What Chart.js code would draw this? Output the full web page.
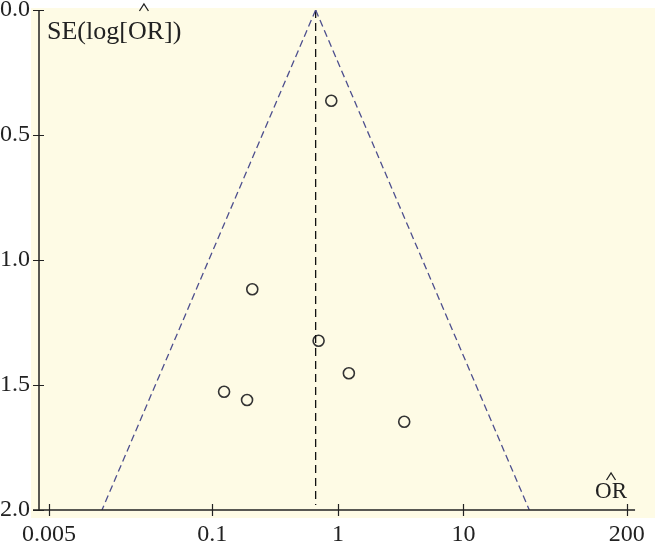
<!DOCTYPE html>
<html>
<head>
<meta charset="utf-8">
<script src="https://cdn.jsdelivr.net/npm/chart.js@4/dist/chart.umd.min.js"></script>
<style>
  html, body { margin: 0; padding: 0; background: #ffffff; }
  #wrap { width: 655px; height: 546px; }
</style>
</head>
<body>
<div id="wrap"><canvas id="funnel"></canvas></div>
<script>
// study estimates
const studyOR = [0.886, 0.208, 0.702, 1.223, 0.124, 0.189, 3.376];
const studySE = [0.363, 1.117, 1.323, 1.453, 1.527, 1.560, 1.647];

// pooled estimate and pseudo 95% limits (ends of the funnel)
const pooledOR = 0.665;
const funnelSE = [0, 2];
const funnelLeftOR = [0.665, 0.0132];
const funnelRightOR = [0.665, 33.5];

// axis ticks
const xTicks = [0.005, 0.1, 1, 10, 200];
const yTicks = [0, 0.5, 1.0, 1.5, 2.0];

const ink = '#222222';
const serif = "'Liberation Serif', 'DejaVu Serif', serif";

const funnelPlugin = {
    id: 'funnelPlugin',
    beforeDraw(chart) {
        const { ctx, chartArea } = chart;
        ctx.save();
        ctx.fillStyle = '#fefbe5';
        ctx.fillRect(chartArea.left - 8, chartArea.top - 2, chart.width - chartArea.left + 8, chartArea.bottom - chartArea.top + 10);
        ctx.restore();
    },
    afterDraw(chart) {
        const { ctx, chartArea, scales } = chart;
        const x = scales.x, y = scales.y;
        ctx.save();
        ctx.strokeStyle = ink;
        ctx.lineWidth = 1.5;
        // axis lines
        ctx.beginPath();
        ctx.moveTo(chartArea.left, chartArea.top);
        ctx.lineTo(chartArea.left, chartArea.bottom);
        ctx.moveTo(chartArea.left - 6, chartArea.bottom);
        ctx.lineTo(chartArea.right, chartArea.bottom);
        ctx.stroke();
        // tick marks crossing the axes
        ctx.lineWidth = 1.2;
        ctx.beginPath();
        xTicks.forEach(function(v) {
            const px = Math.round(x.getPixelForValue(v)) + 0.5;
            ctx.moveTo(px, chartArea.bottom - 6);
            ctx.lineTo(px, chartArea.bottom + 6);
        });
        yTicks.forEach(function(v) {
            const py = Math.round(y.getPixelForValue(v)) + 0.5;
            ctx.moveTo(chartArea.left - 6, py);
            ctx.lineTo(chartArea.left + 5, py);
        });
        ctx.stroke();

        // axis titles with hat over OR
        ctx.fillStyle = ink;
        ctx.textBaseline = 'alphabetic';
        ctx.textAlign = 'left';
        ctx.font = '26px ' + serif;
        const t1 = 'SE(log[';
        const tx = chartArea.left + 8, ty = chartArea.top + 29;
        ctx.fillText(t1, tx, ty);
        const w1 = ctx.measureText(t1).width;
        const wOR = ctx.measureText('OR').width;
        ctx.fillText('OR])', tx + w1, ty);
        drawHat(ctx, tx + w1 + wOR / 2 - 2, ty - 35);

        ctx.font = '23px ' + serif;
        const bx = chartArea.right - 40, by = chartArea.bottom - 12;
        ctx.fillText('OR', bx, by);
        drawHat(ctx, bx + ctx.measureText('OR').width / 2, by - 25);
        ctx.restore();
    }
};

function drawHat(ctx, cx, top) {
    ctx.save();
    ctx.strokeStyle = ink;
    ctx.lineWidth = 1.3;
    ctx.beginPath();
    ctx.moveTo(cx - 4.5, top + 7);
    ctx.lineTo(cx, top);
    ctx.lineTo(cx + 4.5, top + 7);
    ctx.stroke();
    ctx.restore();
}

const ctx = document.getElementById('funnel').getContext('2d');

new Chart(ctx, {
    type: 'scatter',
    data: {
        datasets: [
            {
                label: 'left limit',
                data: funnelSE.map((se, i) => ({ x: funnelLeftOR[i], y: se })),
                showLine: true,
                borderColor: '#4d4f8e',
                borderWidth: 1.3,
                borderDash: [7, 4],
                pointRadius: 0
            },
            {
                label: 'right limit',
                data: funnelSE.map((se, i) => ({ x: funnelRightOR[i], y: se })),
                showLine: true,
                borderColor: '#4d4f8e',
                borderWidth: 1.3,
                borderDash: [7, 4],
                pointRadius: 0
            },
            {
                label: 'pooled',
                data: [{ x: pooledOR, y: 0 }, { x: pooledOR, y: 1.98 }],
                showLine: true,
                borderColor: '#111111',
                borderWidth: 1.3,
                borderDash: [8, 5],
                pointRadius: 0
            },
            {
                label: 'studies',
                data: studyOR.map((or, i) => ({ x: or, y: studySE[i] })),
                pointStyle: 'circle',
                pointRadius: 5.5,
                pointBorderWidth: 1.6,
                pointBorderColor: '#333333',
                pointBackgroundColor: 'rgba(0,0,0,0)'
            }
        ]
    },
    options: {
        responsive: true,
        maintainAspectRatio: false,
        animation: false,
        events: [],
        layout: { padding: { top: 0, right: 19, left: 0, bottom: 0 } },
        plugins: {
            legend: { display: false },
            tooltip: { enabled: false }
        },
        scales: {
            x: {
                type: 'logarithmic',
                min: 0.00416,
                max: 233,
                grid: { display: false, drawTicks: false },
                border: { display: false },
                afterBuildTicks: function(scale) {
                    scale.ticks = xTicks.map(v => ({ value: v }));
                },
                afterFit: function(scale) { scale.height = 36; },
                ticks: {
                    autoSkip: false,
                    maxRotation: 0,
                    padding: 10,
                    color: ink,
                    font: { family: serif, size: 24 },
                    callback: function(v) { return String(v); }
                }
            },
            y: {
                reverse: true,
                min: 0,
                max: 2,
                grid: { display: false, drawTicks: false },
                border: { display: false },
                afterBuildTicks: function(scale) {
                    scale.ticks = yTicks.map(v => ({ value: v }));
                },
                afterFit: function(scale) {
                    scale.width = 39;
                    scale.paddingTop = 10;
                    scale.paddingBottom = 0;
                },
                ticks: {
                    padding: 9,
                    color: ink,
                    font: { family: serif, size: 24 },
                    callback: function(v) { return Number(v).toFixed(1); }
                }
            }
        }
    },
    plugins: [funnelPlugin]
});
</script>
</body>
</html>
